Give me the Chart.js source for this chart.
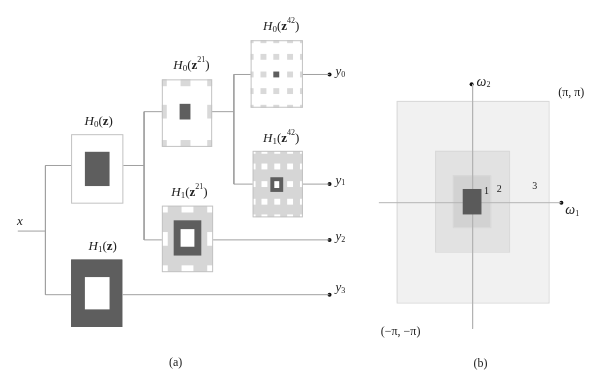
<!DOCTYPE html>
<html>
<head>
<meta charset="utf-8">
<script src="https://cdn.jsdelivr.net/npm/chart.js@4/dist/chart.umd.min.js"></script>
<style>
  html, body { margin: 0; padding: 0; background: #fff; }
</style>
</head>
<body>
<canvas id="diagram" width="593" height="377"></canvas>
<script>
// --- diagram data (in the 593 x 377 frame of the figure) ---
const wires = [
    [[14, 232], [42, 232]],
    [[42, 165], [42, 297]],
    [[42, 165], [68, 165]],
    [[42, 297], [68, 297]],
    [[121, 165], [142, 165]],
    [[142, 110], [142, 241]],
    [[142, 110], [160, 110]],
    [[142, 241], [160, 241]],
    [[211, 110], [233, 110]],
    [[233, 72], [233, 184]],
    [[233, 72], [250, 72]],
    [[233, 184], [252, 184]],
    [[303, 72], [330, 72]],
    [[303, 184], [330, 184]],
    [[212, 241], [330, 241]],
    [[120, 297], [330, 297]]
];
const freqAxes = [
    [[380, 203], [565, 203]],
    [[475, 82], [475, 332]]
];
const endDots = [[330, 72], [330, 184], [330, 241], [330, 297], [474, 82], [565, 203]];

// filter boxes: frame, background, spot grid, centre mark
const filterBoxes = [
    { box: [68, 133, 121, 204], bg: "#ffffff", xs: [], ys: [], spot: [0, 0], mark: [82, 151, 107, 186], hole: null },
    { box: [68, 261, 120, 330], bg: "#5e5e5e", xs: [], ys: [], spot: [0, 0], mark: null, hole: [82, 279, 107, 312] },
    { box: [160, 77, 211, 146], bg: "#ffffff", xs: [160, 184, 211], ys: [77, 110, 146], spot: [10, 14], mark: [178, 102, 189, 118], hole: null },
    { box: [160, 206, 212, 274], bg: "#d6d6d6", xs: [160, 186, 212], ys: [206, 240, 274], spot: [12, 14], mark: [172, 221, 200, 257], hole: [179, 230, 193, 248] },
    { box: [250, 37, 303, 106], bg: "#ffffff", xs: [250, 263, 276, 290, 303], ys: [37, 54, 72, 89, 106], spot: [6, 6], mark: [273, 69, 279, 75], hole: null },
    { box: [252, 150, 303, 218], bg: "#d6d6d6", xs: [252, 264, 277, 290, 303], ys: [150, 166, 184, 202, 218], spot: [6, 6], mark: [270, 177, 283, 192], hole: [274, 181, 279, 188] }
];

// passbands of panel (b), outer to inner; the last one sits above the axes
const bands = [[398, 99, 552, 305], [437, 150, 512, 253], [455, 175, 493, 228]];
const bandColors = ["#f1f1f1", "#e2e2e2", "#d2d2d2"];
const lowBand = [465, 189, 484, 215];

const filterLabels = [
    { k: "0", n: "", x: 96, y: 120 },
    { k: "1", n: "", x: 100, y: 248 },
    { k: "0", n: "21", x: 190, y: 63 },
    { k: "1", n: "21", x: 188, y: 193 },
    { k: "0", n: "42", x: 281, y: 23 },
    { k: "1", n: "42", x: 281, y: 138 }
];
const outLabels = [["0", 336, 69], ["1", 336, 180], ["2", 336, 238], ["3", 336, 290]];
const plainLabels = [
    ["x", 16, 222, "italic 13px 'Liberation Serif'"],
    ["(a)", 174, 367, "12px 'Liberation Serif'"],
    ["(b)", 483, 368, "12px 'Liberation Serif'"],
    ["(π, π)", 575, 91, "12px 'Liberation Serif'"],
    ["(−π, −π)", 402, 335, "12px 'Liberation Serif'"],
    ["1", 489, 191, "10px 'Liberation Serif'"],
    ["2", 502, 189, "10px 'Liberation Serif'"],
    ["3", 538, 186, "10px 'Liberation Serif'"]
];
const omegaLabels = [["1", 569, 211], ["2", 479, 80]];

const pt = p => ({ x: p[0], y: p[1] });

function rectPx(chart, r) {
    const sx = chart.scales.x, sy = chart.scales.y;
    const x0 = sx.getPixelForValue(r[0]), y0 = sy.getPixelForValue(r[1]);
    const x1 = sx.getPixelForValue(r[2]), y1 = sy.getPixelForValue(r[3]);
    return [x0, y0, x1 - x0, y1 - y0];
}

// draws a run of [text, font, dy] pieces around (x, y)
function drawRun(ctx, pieces, x, y, align) {
    let w = 0;
    pieces.forEach(p => { ctx.font = p[1]; w += ctx.measureText(p[0]).width; });
    let cx = align === "left" ? x : x - w / 2;
    ctx.textAlign = "left";
    ctx.textBaseline = "middle";
    pieces.forEach(p => {
        ctx.font = p[1];
        ctx.fillText(p[0], cx, y + (p[2] || 0));
        cx += ctx.measureText(p[0]).width;
    });
}

const diagramPlugin = {
    id: "diagram",
    beforeDatasetsDraw(chart) {
        const ctx = chart.ctx;
        ctx.save();
        // panel (b) bands
        bands.forEach((b, i) => {
            const r = rectPx(chart, b);
            ctx.fillStyle = bandColors[i];
            ctx.fillRect(...r);
            ctx.strokeStyle = "#d8d8d8";
            ctx.lineWidth = 1;
            ctx.strokeRect(r[0] + 0.5, r[1] + 0.5, r[2], r[3]);
        });
        // filter boxes
        filterBoxes.forEach(f => {
            const r = rectPx(chart, f.box);
            ctx.save();
            ctx.beginPath();
            ctx.rect(...r);
            ctx.clip();
            ctx.fillStyle = f.bg;
            ctx.fillRect(...r);
            const spotColor = f.bg === "#ffffff" ? "#d9d9d9" : "#ffffff";
            const mid = f.mark ? [(f.mark[0] + f.mark[2]) / 2, (f.mark[1] + f.mark[3]) / 2] : null;
            f.xs.forEach(cx => f.ys.forEach(cy => {
                if (mid && Math.abs(cx - mid[0]) < 3 && Math.abs(cy - mid[1]) < 3) return;
                ctx.fillStyle = spotColor;
                ctx.fillRect(...rectPx(chart, [cx - f.spot[0] / 2, cy - f.spot[1] / 2, cx + f.spot[0] / 2, cy + f.spot[1] / 2]));
            }));
            if (f.mark) {
                ctx.fillStyle = "#5e5e5e";
                ctx.fillRect(...rectPx(chart, f.mark));
            }
            if (f.hole) {
                ctx.fillStyle = "#ffffff";
                ctx.fillRect(...rectPx(chart, f.hole));
            }
            ctx.restore();
            ctx.strokeStyle = f.bg === "#5e5e5e" ? "#5e5e5e" : "#c2c2c2";
            ctx.lineWidth = 1;
            ctx.strokeRect(r[0] + 0.5, r[1] + 0.5, r[2] - 1, r[3] - 1);
        });
        ctx.restore();
    },
    afterDraw(chart) {
        const ctx = chart.ctx;
        const sx = chart.scales.x, sy = chart.scales.y;
        ctx.save();
        ctx.fillStyle = "#5a5a5a";
        ctx.fillRect(...rectPx(chart, lowBand));
        ctx.fillStyle = "#222";
        const big = "italic 13px 'Liberation Serif'";
        filterLabels.forEach(l => {
            const pieces = [
                ["H", big, 0],
                [l.k, "9px 'Liberation Serif'", 3],
                ["(", "13px 'Liberation Serif'", 0],
                ["z", "bold 13px 'Liberation Serif'", 0]
            ];
            if (l.n) pieces.push([l.n, "8px 'Liberation Serif'", -6]);
            pieces.push([")", "13px 'Liberation Serif'", 0]);
            drawRun(ctx, pieces, sx.getPixelForValue(l.x), sy.getPixelForValue(l.y), "center");
        });
        outLabels.forEach(o => {
            drawRun(ctx, [["y", "italic 13px 'Liberation Serif'", 0], [o[0], "8px 'Liberation Serif'", 3]],
                sx.getPixelForValue(o[1]), sy.getPixelForValue(o[2]), "left");
        });
        omegaLabels.forEach(o => {
            drawRun(ctx, [["ω", "italic 14px 'Liberation Serif'", 0], [o[0], "8px 'Liberation Serif'", 3]],
                sx.getPixelForValue(o[1]), sy.getPixelForValue(o[2]), "left");
        });
        plainLabels.forEach(p => {
            drawRun(ctx, [[p[0], p[3], 0]], sx.getPixelForValue(p[1]), sy.getPixelForValue(p[2]), "center");
        });
        ctx.restore();
    }
};

const datasets = wires.map(w => ({
    type: "line",
    data: w.map(pt),
    borderColor: "#a0a0a0",
    borderWidth: 1,
    pointRadius: 0,
    fill: false
}));
freqAxes.forEach(a => datasets.push({
    type: "line",
    data: a.map(pt),
    borderColor: "#b4b4b4",
    borderWidth: 1,
    pointRadius: 0,
    fill: false
}));
datasets.push({
    type: "scatter",
    data: endDots.map(pt),
    pointRadius: 2,
    pointBackgroundColor: "#111",
    pointBorderWidth: 0
});

new Chart(document.getElementById("diagram").getContext("2d"), {
    type: "scatter",
    data: { datasets: datasets },
    options: {
        responsive: false,
        animation: false,
        devicePixelRatio: 1,
        layout: { padding: 0 },
        plugins: { legend: { display: false }, tooltip: { enabled: false } },
        scales: {
            x: { type: "linear", min: 0, max: 593, display: false },
            y: { type: "linear", min: 0, max: 377, reverse: true, display: false }
        }
    },
    plugins: [diagramPlugin]
});
</script>
</body>
</html>
